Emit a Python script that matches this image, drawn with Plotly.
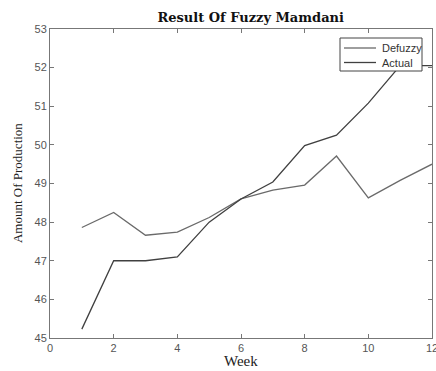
import plotly.graph_objects as go

weeks = [1, 2, 3, 4, 5, 6, 7, 8, 9, 10, 11, 12]
defuzzy = [47.86, 48.25, 47.66, 47.74, 48.12, 48.6, 48.83, 48.96, 49.71, 48.63, 49.08, 49.5]
actual = [45.23, 47.0, 47.0, 47.1, 48.0, 48.6, 49.04, 49.98, 50.25, 51.08, 52.05, 52.05]
x_ticks = [0, 2, 4, 6, 8, 10, 12]
y_ticks = [45, 46, 47, 48, 49, 50, 51, 52, 53]
series_names = ["Defuzzy", "Actual"]
series_colors = ["#6a6a6a", "#404040"]

W, H = 436, 371
ML, MR, MT, MB = 50, 4, 29, 33
PW, PH = W - ML - MR, H - MT - MB


def px(xp):
    return (xp - ML) / PW


def py(yp):
    return (H - MB - yp) / PH


fig = go.Figure()
for name, vals, col in zip(series_names, [defuzzy, actual], series_colors):
    fig.add_trace(go.Scatter(x=weeks, y=vals, mode="lines", name=name,
                             line=dict(color=col, width=1.3), showlegend=False))

axis_common = dict(showgrid=False, zeroline=False, showline=True, mirror="ticks",
                   linecolor="#777777", linewidth=1, ticks="inside", ticklen=4,
                   tickcolor="#777777", automargin=False, ticklabeloverflow="allow",
                   tickfont=dict(family="Liberation Sans", size=11, color="#555555"))

# manual legend box (MATLAB style)
shapes = [dict(type="rect", xref="paper", yref="paper",
               x0=px(340), x1=px(422), y0=py(38), y1=py(71),
               line=dict(color="#444444", width=1), fillcolor="white", layer="above")]
annotations = []
for i, (name, col) in enumerate(zip(series_names, series_colors)):
    yy = 48 + i * 14.5
    shapes.append(dict(type="line", xref="paper", yref="paper",
                       x0=px(344), x1=px(376), y0=py(yy), y1=py(yy),
                       line=dict(color=col, width=1.3), layer="above"))
    annotations.append(dict(text=name, xref="paper", yref="paper", x=px(380), y=py(yy),
                            xanchor="left", yanchor="middle", showarrow=False,
                            font=dict(family="Liberation Sans", size=11, color="#333333")))

annotations += [
    dict(text="Week", xref="paper", yref="paper", x=0.5, y=-0.075,
         xanchor="center", yanchor="middle", showarrow=False,
         font=dict(family="Liberation Serif", size=15, color="#222222")),
    dict(text="Amount Of Production", xref="paper", yref="paper", x=-0.085, y=0.5,
         xanchor="center", yanchor="middle", showarrow=False, textangle=-90,
         font=dict(family="Liberation Serif", size=13, color="#222222")),
]

fig.update_layout(
    width=W, height=H,
    margin=dict(l=ML, r=MR, t=MT, b=MB),
    paper_bgcolor="white", plot_bgcolor="white",
    title=dict(text="<b>Result Of Fuzzy Mamdani</b>", x=0.575, xanchor="center",
               y=0.953, yanchor="middle",
               font=dict(family="DejaVu Serif", size=13, color="#111111")),
    xaxis=dict(range=[0, 12], tickvals=x_ticks, **axis_common),
    yaxis=dict(range=[45, 53], tickvals=y_ticks, **axis_common),
    showlegend=False,
    shapes=shapes,
    annotations=annotations,
)

fig.write_html("out.html", config={"displayModeBar": False},
               post_script="document.body.style.margin='0';document.body.style.overflow='hidden';")
